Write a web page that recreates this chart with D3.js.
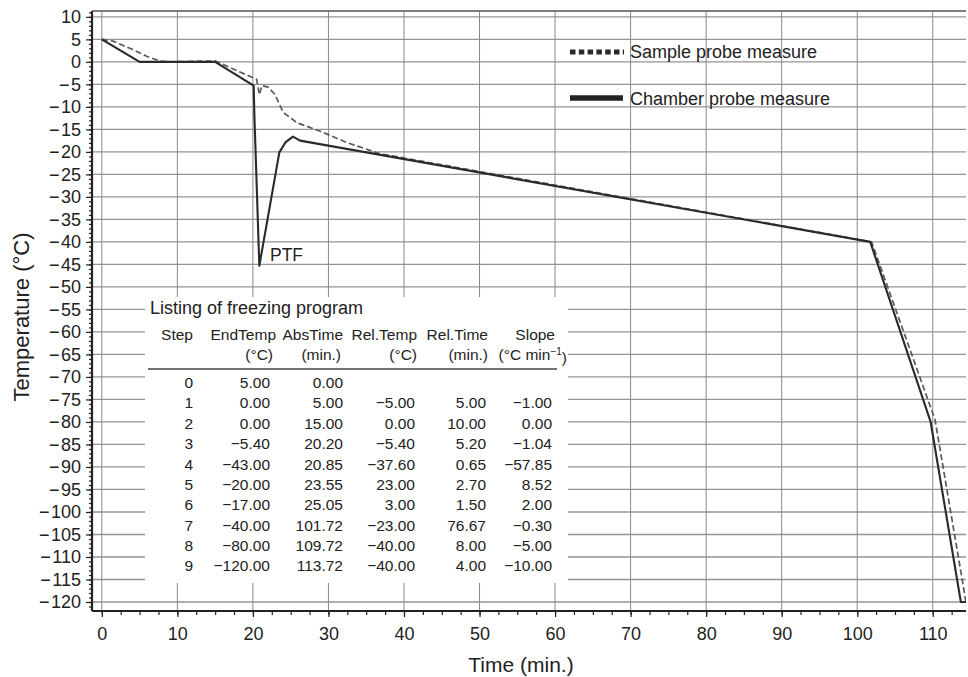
<!DOCTYPE html>
<html lang="en">
<head>
    <meta charset="UTF-8">
    <title>Freezing program</title>
    <style type="text/css">
        * {
            margin: 0;
            padding: 0;
        }

        body {
            background: #fff;
        }

        #chart-area {
            width: 968px;
            height: 677px;
        }

        text {
            font-family: "Liberation Sans", Arial, Helvetica, sans-serif;
            fill: #222;
        }
    </style>
</head>
<body>
<div id="chart-area"></div>
<script src="https://cdn.jsdelivr.net/npm/d3@7/dist/d3.min.js"></script>
<script type="text/javascript">

  const WIDTH = 968
  const HEIGHT = 677

  // measured curves
  const chamberTime = [0, 5, 15, 20.1, 20.2, 20.85, 23.5, 24.3, 25.3, 26.25, 101.72, 109.72, 113.72, 114.6]
  const chamberTemp = [5, 0, 0, -5.3, -12, -45.3, -20.1, -17.9, -16.6, -17.5, -40, -80, -120, -120]

  const sampleTime = [0, 1.5, 4, 6, 7.7, 9, 15, 20.5, 20.85, 21.2, 22.0, 22.9, 24.0, 25.8, 28.9, 32.4, 36.8, 101.9, 110.3, 114.5]
  const sampleTemp = [5, 4.6, 2.8, 1.2, 0.2, 0, 0.2, -3.9, -7.3, -5.3, -5.6, -7.2, -11.2, -13.5, -15.4, -17.9, -20.4, -40, -79.5, -121]

  // freezing program listing
  const steps = [0, 1, 2, 3, 4, 5, 6, 7, 8, 9]
  const endTemp = [5, 0, 0, -5.4, -43, -20, -17, -40, -80, -120]
  const absTime = [0, 5, 15, 20.2, 20.85, 23.55, 25.05, 101.72, 109.72, 113.72]
  const relTemp = [null, -5, 0, -5.4, -37.6, 23, 3, -23, -40, -40]
  const relTime = [null, 5, 10, 5.2, 0.65, 2.7, 1.5, 76.67, 8, 4]
  const slope = [null, -1, 0, -1.04, -57.85, 8.52, 2, -0.3, -5, -10]

  const xTicks = d3.range(0, 111, 10)
  const yTicks = d3.range(10, -121, -5)

  const m = {left: 92, right: 966, top: 11, bottom: 611}

  const x = d3.scaleLinear().domain([-1.3, 114.4]).range([m.left, m.right])
  const y = d3.scaleLinear().domain([-122, 11.3]).range([m.bottom, m.top])

  const minus = (s) => s.replace('-', '\u2212\u200a')
  const fmt2 = d3.format('.2f')
  const num = (v) => v === null ? '' : minus(fmt2(v))

  const svg = d3.select('#chart-area').append('svg')
      .attr('width', WIDTH)
      .attr('height', HEIGHT)

  svg.append('clipPath').attr('id', 'plot-clip')
      .append('rect')
      .attr('x', m.left).attr('y', m.top)
      .attr('width', m.right - m.left).attr('height', m.bottom - m.top)

  // grid
  const grid = svg.append('g')
  grid.selectAll('.hgrid')
      .data(yTicks)
      .enter()
      .append('line')
      .attr('x1', m.left).attr('x2', m.right)
      .attr('y1', (d) => y(d)).attr('y2', (d) => y(d))
      .attr('stroke', '#949494')
      .attr('stroke-width', 1.3)
  grid.selectAll('.vgrid')
      .data(xTicks)
      .enter()
      .append('line')
      .attr('x1', (d) => x(d)).attr('x2', (d) => x(d))
      .attr('y1', m.top).attr('y2', m.bottom)
      .attr('stroke', '#8a8a8a')
      .attr('stroke-width', 1)

  // axes
  const xAxis = d3.axisBottom(x).tickValues(xTicks).tickSize(6).tickFormat(d3.format('d'))
  const xMinor = d3.axisBottom(x).tickValues(d3.range(0, 114.5, 2.5)).tickSize(4).tickFormat('')
  const yAxis = d3.axisLeft(y).tickValues(yTicks).tickSize(6).tickFormat((d) => minus(String(d)))
  const yMinor = d3.axisLeft(y).tickValues(d3.range(11, -122, -1)).tickSize(3).tickFormat('')

  const styleAxis = (g) => {
    g.select('.domain').remove()
    g.selectAll('line').attr('stroke', '#222').attr('stroke-width', 1.2)
    g.selectAll('text')
        .attr('font-size', '18px')
        .attr('font-family', '"Liberation Sans", Arial, sans-serif')
        .attr('fill', '#222')
  }

  svg.append('g').attr('transform', `translate(0, ${m.bottom})`).call(xMinor).call(styleAxis)
  svg.append('g').attr('transform', `translate(0, ${m.bottom})`).call(xAxis).call(styleAxis)
      .selectAll('text').attr('dy', '1.1em')
  svg.append('g').attr('transform', `translate(${m.left}, 0)`).call(yMinor).call(styleAxis)
  svg.append('g').attr('transform', `translate(${m.left}, 0)`).call(yAxis).call(styleAxis)
      .selectAll('text').attr('x', -11)

  // frame
  svg.append('line')
      .attr('x1', m.left).attr('x2', m.right).attr('y1', m.bottom).attr('y2', m.bottom)
      .attr('stroke', '#222').attr('stroke-width', 2.2)
  svg.append('line')
      .attr('x1', m.left).attr('x2', m.left).attr('y1', m.top).attr('y2', m.bottom)
      .attr('stroke', '#222').attr('stroke-width', 2.2)
  svg.append('line')
      .attr('x1', m.left).attr('x2', m.right).attr('y1', m.top).attr('y2', m.top)
      .attr('stroke', '#555').attr('stroke-width', 1.5)

  // axis titles
  svg.append('text')
      .attr('transform', 'translate(21, 317) rotate(-90)')
      .attr('text-anchor', 'middle')
      .attr('dy', '0.35em')
      .attr('font-size', '22px')
      .text('Temperature (°C)')

  svg.append('text')
      .attr('x', 521)
      .attr('y', 665)
      .attr('text-anchor', 'middle')
      .attr('dy', '0.35em')
      .attr('font-size', '21px')
      .text('Time (min.)')

  // curves
  const line = d3.line()
      .x((d) => x(d[0]))
      .y((d) => y(d[1]))

  const curves = svg.append('g').attr('clip-path', 'url(#plot-clip)')

  curves.append('path')
      .attr('d', line(d3.zip(sampleTime, sampleTemp)))
      .attr('fill', 'none')
      .attr('stroke', '#5a5a5a')
      .attr('stroke-width', 1.7)
      .attr('stroke-dasharray', '6,3')

  curves.append('path')
      .attr('d', line(d3.zip(chamberTime, chamberTemp)))
      .attr('fill', 'none')
      .attr('stroke', '#2a2a2a')
      .attr('stroke-width', 2.1)
      .attr('stroke-linejoin', 'round')

  svg.append('text')
      .attr('x', 270)
      .attr('y', 255)
      .attr('dy', '0.35em')
      .attr('font-size', '17.5px')
      .text('PTF')

  // legend
  const legend = svg.append('g')
  legend.append('line')
      .attr('x1', 570).attr('x2', 624).attr('y1', 52).attr('y2', 52)
      .attr('stroke', '#2a2a2a').attr('stroke-width', 5)
      .attr('stroke-dasharray', '5.5,3.3')
  legend.append('text')
      .attr('x', 630).attr('y', 52).attr('dy', '0.35em')
      .attr('font-size', '18px')
      .text('Sample probe measure')
  legend.append('line')
      .attr('x1', 570).attr('x2', 623).attr('y1', 98).attr('y2', 98)
      .attr('stroke', '#222').attr('stroke-width', 5.5)
  legend.append('text')
      .attr('x', 630).attr('y', 99).attr('dy', '0.35em')
      .attr('font-size', '18px')
      .text('Chamber probe measure')

  // program listing box
  const table = svg.append('g')
  table.append('rect')
      .attr('x', 145).attr('y', 297)
      .attr('width', 423).attr('height', 286)
      .attr('fill', '#fff')

  table.append('text')
      .attr('x', 150).attr('y', 308).attr('dy', '0.35em')
      .attr('font-size', '18px')
      .text('Listing of freezing program')

  const colRight = [193, 270, 343, 415, 486, 552]
  const head1 = [['Step', 193], ['EndTemp', 276], ['AbsTime', 343], ['Rel.Temp', 417], ['Rel.Time', 488], ['Slope', 555]]
  const head2 = [['(°C)', 273], ['(min.)', 341], ['(°C)', 417], ['(min.)', 488]]

  table.selectAll('.h1')
      .data(head1)
      .enter()
      .append('text')
      .attr('x', (d) => d[1]).attr('y', 335).attr('dy', '0.35em')
      .attr('text-anchor', 'end')
      .attr('font-size', '15.5px')
      .text((d) => d[0])

  table.selectAll('.h2')
      .data(head2)
      .enter()
      .append('text')
      .attr('x', (d) => d[1]).attr('y', 355).attr('dy', '0.35em')
      .attr('text-anchor', 'end')
      .attr('font-size', '15.5px')
      .text((d) => d[0])

  const slopeUnit = table.append('text')
      .attr('x', 567).attr('y', 355).attr('dy', '0.35em')
      .attr('text-anchor', 'end')
      .attr('font-size', '15.5px')
  slopeUnit.append('tspan').text('(°C min')
  slopeUnit.append('tspan').attr('dy', '-0.55em').attr('font-size', '10px').text('\u2212' + '1')
  slopeUnit.append('tspan').attr('dy', '0.55em').text(')')

  table.append('line')
      .attr('x1', 148).attr('x2', 557).attr('y1', 369).attr('y2', 369)
      .attr('stroke', '#444').attr('stroke-width', 1.6)

  const rowY = d3.scaleLinear().domain([0, 9]).range([382.7, 566])

  const rows = table.selectAll('.row')
      .data(steps)
      .enter()
      .append('g')

  const cells = (i) => [String(steps[i]), num(endTemp[i]), num(absTime[i]), num(relTemp[i]), num(relTime[i]), num(slope[i])]

  rows.selectAll('text')
      .data((d, i) => cells(i).map((t, j) => ({t: t, j: j, i: i})))
      .enter()
      .append('text')
      .attr('x', (d) => colRight[d.j])
      .attr('y', (d) => rowY(d.i))
      .attr('dy', '0.35em')
      .attr('text-anchor', 'end')
      .attr('font-size', '15.5px')
      .text((d) => d.t)

</script>
</body>
</html>
